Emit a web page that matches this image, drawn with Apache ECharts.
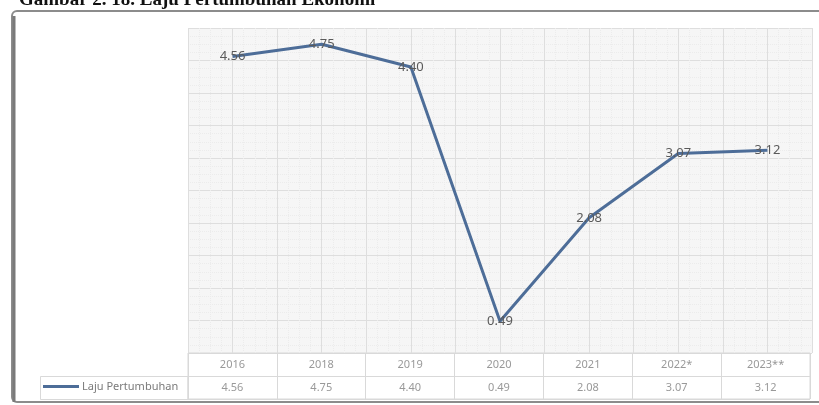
<!DOCTYPE html>
<html>
<head>
<meta charset="utf-8">
<script src="https://cdn.jsdelivr.net/npm/echarts@6/dist/echarts.min.js"></script>
<style>
html,body{margin:0;padding:0;background:#fff;}
#chart{width:819px;height:405px;}
</style>
</head>
<body>
<div id="chart"></div>
<script>
const titleText = 'Gambar 2. 18. Laju Pertumbuhan Ekonomi';
const seriesName = 'Laju Pertumbuhan';
const categories = ['2016', '2018', '2019', '2020', '2021', '2022*', '2023**'];
const growth = [4.56, 4.75, 4.40, 0.49, 2.08, 3.07, 3.12];
const tableRows = ['nilai', 'tahun'];

const chart = echarts.init(document.getElementById('chart'), null, {renderer: 'canvas'});

const headerCells = categories.map(c => [c, 'tahun']);
const valueCells = categories.map((c, i) => [c, 'nilai', growth[i]]);

const lineColor = '#4d6d98';
const tableFont = {fontFamily: 'Noto Sans', fontSize: 11, color: '#808080'};

chart.setOption({
  backgroundColor: '#ffffff',
  animation: false,
  legend: {
    data: [{name: seriesName, itemStyle: {color: lineColor}}],
    left: 43,
    top: 381,
    padding: 0,
    icon: 'rect',
    itemWidth: 36,
    itemHeight: 3,
    itemGap: 3,
    textStyle: {fontFamily: 'Noto Sans', fontSize: 11, color: '#7a7a7a', padding: [0, 0, 0, -2]}
  },
  graphic: [
    {type: 'text', left: 19, top: -9, silent: true,
     style: {text: titleText, font: 'bold 19px "Liberation Serif"', fill: '#111'}},
    {type: 'rect', shape: {x: 12, y: 11, width: 820, height: 391, r: 5}, silent: true,
     style: {fill: 'none', stroke: '#8c8c8c', lineWidth: 2}},
    {type: 'line', shape: {x1: 14, y1: 16, x2: 14, y2: 402}, silent: true,
     style: {stroke: '#7a7a7a', lineWidth: 3}},
    {type: 'rect', shape: {x: 40.5, y: 376.5, width: 147.5, height: 23}, silent: true,
     style: {fill: 'none', stroke: '#d9d9d9', lineWidth: 1}}
  ],
  grid: [
    {left: 188, right: 7, top: 28, height: 325, show: true, backgroundColor: '#f6f6f6', borderWidth: 0},
    {left: 188, right: 9, top: 353, height: 46, show: true, backgroundColor: '#ffffff', borderColor: '#d9d9d9', borderWidth: 1}
  ],
  xAxis: [
    {gridIndex: 0, type: 'category', data: categories, boundaryGap: true,
     axisLine: {show: false}, axisTick: {show: false}, axisLabel: {show: false},
     splitLine: {show: false}},
    {gridIndex: 0, type: 'value', min: 0, max: 7, interval: 0.5,
     axisLine: {show: false}, axisTick: {show: false}, axisLabel: {show: false},
     splitLine: {show: true, lineStyle: {color: '#dedede', width: 1}},
     minorTick: {show: false, splitNumber: 4},
     minorSplitLine: {show: true, lineStyle: {color: '#ececec', type: 'dotted', width: 1}}},
    {gridIndex: 1, type: 'category', data: categories, boundaryGap: true,
     axisLine: {show: false}, axisTick: {show: false}, axisLabel: {show: false},
     splitLine: {show: true, interval: 0, lineStyle: {color: '#d9d9d9'}}}
  ],
  yAxis: [
    {gridIndex: 0, type: 'value', min: 0, max: 5, interval: 0.5,
     axisLine: {show: false}, axisTick: {show: false}, axisLabel: {show: false},
     splitLine: {show: true, lineStyle: {color: '#dedede', width: 1}},
     minorTick: {show: false, splitNumber: 4},
     minorSplitLine: {show: true, lineStyle: {color: '#ececec', type: 'dotted', width: 1}}},
    {gridIndex: 1, type: 'category', data: tableRows, boundaryGap: true,
     axisLine: {show: false}, axisTick: {show: false}, axisLabel: {show: false},
     splitLine: {show: true, interval: 0, lineStyle: {color: '#d9d9d9'}}}
  ],
  series: [
    {
      name: seriesName,
      type: 'line',
      xAxisIndex: 0, yAxisIndex: 0,
      data: growth,
      symbol: 'circle',
      symbolSize: 1,
      showSymbol: true,
      lineStyle: {color: lineColor, width: 3},
      itemStyle: {color: 'rgba(0,0,0,0)'},
      label: {show: true, position: 'inside', fontFamily: 'Noto Sans', fontSize: 13, color: '#5a5a5a',
              formatter: p => p.value.toFixed(2)},
      z: 5
    },
    {
      type: 'scatter', xAxisIndex: 2, yAxisIndex: 1,
      data: headerCells, symbolSize: 1, itemStyle: {color: 'rgba(0,0,0,0)'}, silent: true,
      label: {show: true, position: 'inside', ...tableFont, formatter: p => p.value[0]}
    },
    {
      type: 'scatter', xAxisIndex: 2, yAxisIndex: 1,
      data: valueCells, symbolSize: 1, itemStyle: {color: 'rgba(0,0,0,0)'}, silent: true,
      label: {show: true, position: 'inside', ...tableFont, formatter: p => p.value[2].toFixed(2)}
    }
  ]
});
</script>
</body>
</html>
